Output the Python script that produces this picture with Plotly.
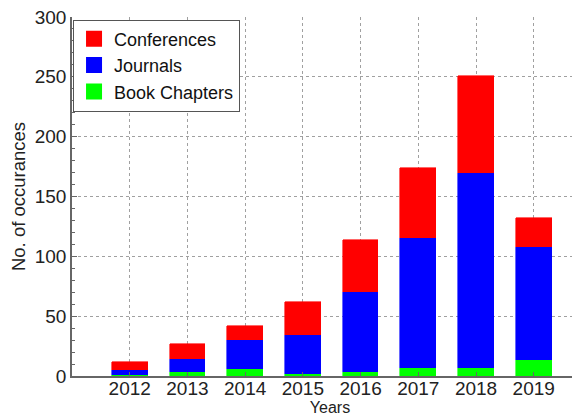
import plotly.graph_objects as go

years = [2012, 2013, 2014, 2015, 2016, 2017, 2018, 2019]
book_chapters = [1, 3, 6, 2, 3, 7, 7, 13]
journals = [4, 11, 24, 32, 67, 108, 163, 95]
conferences = [7, 13, 12, 28, 44, 59, 81, 24]
series_names = ["Conferences", "Journals", "Book Chapters"]
colors = {"Conferences": "#ff0000", "Journals": "#0000ff", "Book Chapters": "#00ff00"}
y_ticks = [0, 50, 100, 150, 200, 250, 300]

FONT = "Liberation Sans, Arial, sans-serif"

fig = go.Figure()
for name, vals in [("Book Chapters", book_chapters), ("Journals", journals), ("Conferences", conferences)]:
    fig.add_trace(go.Bar(
        x=years, y=vals, name=name, width=0.62,
        marker=dict(color=colors[name], line=dict(width=0.6, color=colors[name])),
        showlegend=False,
    ))

# legend entries (larger square swatches)
for name in series_names:
    fig.add_trace(go.Scatter(
        x=[None], y=[None], mode="markers", name=name,
        marker=dict(symbol="square", size=16, color=colors[name]),
        showlegend=True,
    ))

fig.update_layout(
    width=580, height=417,
    barmode="stack",
    bargap=0,
    plot_bgcolor="white",
    paper_bgcolor="white",
    margin=dict(l=64, r=0, t=9, b=49, autoexpand=False),
    font=dict(family=FONT, size=18.5, color="#222"),
    showlegend=True,
    legend=dict(
        x=0.002, y=0.993, xanchor="left", yanchor="top",
        bgcolor="white", bordercolor="#555", borderwidth=1,
        traceorder="normal", font=dict(size=18, color="#111"),
        itemwidth=30, tracegroupgap=0,
    ),
)

fig.update_xaxes(
    range=[2011, 2019.94],
    tickvals=years, ticktext=[str(y) for y in years],
    tickfont=dict(size=19),
    showgrid=True, gridcolor="#a0a0a0", griddash="dot", gridwidth=1,
    showline=True, linecolor="#666", linewidth=1.5,
    ticks="inside", ticklen=4, tickcolor="#666",
    zeroline=False, ticklabeloverflow="allow", ticklabelstandoff=-6,
    title=dict(text="Years", standoff=0, font=dict(size=16)),
)
fig.update_yaxes(
    range=[0, 300],
    tickvals=y_ticks,
    tickfont=dict(size=19),
    showgrid=True, gridcolor="#a0a0a0", griddash="dot", gridwidth=1,
    showline=True, linecolor="#666", linewidth=1.5,
    ticks="inside", ticklen=5, tickcolor="#666",
    minor=dict(dtick=10, ticks="inside", ticklen=3, tickcolor="#666", showgrid=False),
    zeroline=False, ticklabeloverflow="allow",
    title=dict(text="No. of occurances", standoff=6, font=dict(size=18.5)),
)

fig.write_html("out.html")
